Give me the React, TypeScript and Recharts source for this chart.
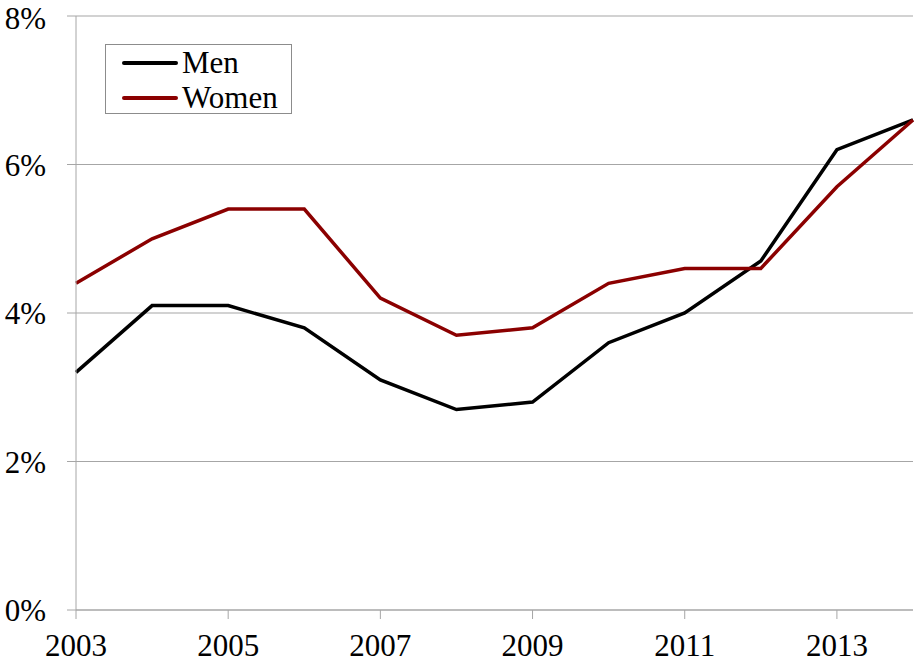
import { LineChart, Line, XAxis, YAxis, CartesianGrid, Legend } from 'recharts'

const years = [2003, 2004, 2005, 2006, 2007, 2008, 2009, 2010, 2011, 2012, 2013, 2014]
const men = [3.2, 4.1, 4.1, 3.8, 3.1, 2.7, 2.8, 3.6, 4.0, 4.7, 6.2, 6.6]
const women = [4.4, 5.0, 5.4, 5.4, 4.2, 3.7, 3.8, 4.4, 4.6, 4.6, 5.7, 6.6]
const xTicks = [2003, 2005, 2007, 2009, 2011, 2013]
const yTicks = [0, 2, 4, 6, 8]

const series = [
  { key: 'men', name: 'Men', color: '#000000' },
  { key: 'women', name: 'Women', color: '#8b0000' },
]

const data = years.map((year, i) => ({ year, men: men[i], women: women[i] }))

const font = "'Liberation Serif', 'Times New Roman', serif"
const gray = '#a6a6a6'

function LegendBox() {
  return (
    <div
      style={{
        border: '1px solid #8c8c8c',
        width: 185,
        height: 68,
        boxSizing: 'content-box',
        fontFamily: font,
        fontSize: 31,
        lineHeight: '36px',
        color: '#000',
      }}
    >
      {series.map(s => (
        <div key={s.key} style={{ display: 'flex', alignItems: 'center', height: 35 }}>
          <svg width={76} height={10} style={{ display: 'block' }}>
            <line x1={18} y1={5} x2={70} y2={5} stroke={s.color} strokeWidth={4} strokeLinecap="round" />
          </svg>
          <span>{s.name}</span>
        </div>
      ))}
    </div>
  )
}

export default function App() {
  return (
    <div
      style={{
        position: 'absolute',
        left: 0,
        top: 0,
        width: 915,
        height: 664,
        background: '#fff',
        fontFamily: font,
      }}
    >
      <LineChart width={915} height={664} data={data} margin={{ top: 16, right: 2, bottom: 0, left: 0 }}>
        <CartesianGrid horizontal vertical={false} stroke={gray} strokeWidth={1.2} />
        <XAxis
          dataKey="year"
          type="number"
          domain={[2003, 2014]}
          ticks={xTicks}
          height={54}
          stroke={gray}
          tickSize={9}
          tickMargin={15}
          tick={{ fontSize: 31, fill: '#000', fontFamily: font }}
        />
        <YAxis
          domain={[0, 8]}
          ticks={yTicks}
          width={76}
          stroke={gray}
          tickSize={9}
          tickMargin={21}
          tickFormatter={v => `${v}%`}
          tick={{ fontSize: 31, fill: '#000', fontFamily: font }}
        />
        <Legend
          layout="vertical"
          align="center"
          verticalAlign="middle"
          content={() => <LegendBox />}
          wrapperStyle={{ left: 105, top: 44, width: 'auto' }}
        />
        {series.map(s => (
          <Line
            key={s.key}
            dataKey={s.key}
            name={s.name}
            type="linear"
            stroke={s.color}
            strokeWidth={3.5}
            dot={false}
            activeDot={false}
            isAnimationActive={false}
          />
        ))}
      </LineChart>
    </div>
  )
}
